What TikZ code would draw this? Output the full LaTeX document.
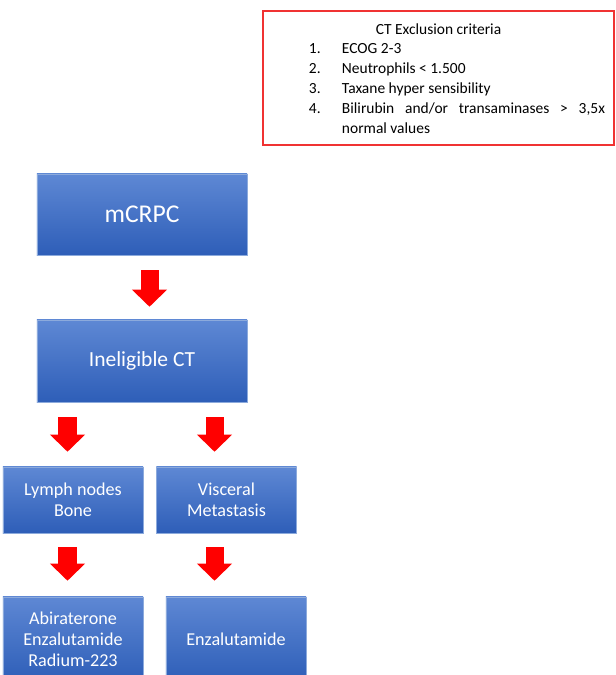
\documentclass[tikz,border=0pt]{standalone}
\usepackage{fontspec}
\setsansfont{Carlito}
\usetikzlibrary{arrows.meta,calc}
\tikzset{every picture/.style={/utils/exec={\sffamily}}}
\definecolor{stageTop}{RGB}{94,136,212}
\definecolor{stageBot}{RGB}{46,94,184}
\definecolor{stageEdge}{RGB}{140,170,220}
\definecolor{critRed}{RGB}{240,50,50}
\tikzset{stage/.style={draw=stageEdge,line width=0.4pt,top color=stageTop,bottom color=stageBot,text=white,align=center,inner sep=0pt}}
\tikzset{small/.style={stage,minimum width=3.5cm,font=\fontsize{12.9}{15}\selectfont}}
\tikzset{flow/.style={red,line width=0.45cm,-{Triangle[width=0.875cm,length=0.425cm,line width=0pt]}}}

\begin{document}
\begin{tikzpicture}[x=0.025cm,y=-0.025cm]
    \useasboundingbox (0,0) rectangle (616,675);
    % exclusion criteria
    \node (crit) at (438.5,78) [draw=critRed,line width=1pt,minimum width=8.775cm,
        minimum height=3.35cm,text width=8.775cm,inner sep=0pt,align=justify,
        font=\fontsize{11}{14.2}\selectfont] {%
        {\centering\rule{0pt}{13pt}CT Exclusion criteria\par}\vspace{-0.5pt}
        \noindent\hspace*{1.15cm}\begin{tabular}[t]{@{}p{0.825cm}@{}p{6.575cm}@{}}
            1. & ECOG 2-3\\
            2. & Neutrophils < 1.500\\
            3. & Taxane hyper sensibility\\
            4. & \hyphenpenalty=10000 Bilirubin and/or transaminases > 3,5x normal values
        \end{tabular}};
    % flow
    \node (mcrpc) at (142,214.5) [stage,minimum width=5.25cm,minimum height=2.025cm,font=\fontsize{18.2}{21}\selectfont] {mCRPC};
    \node (inel) at (142,361) [stage,minimum width=5.25cm,minimum height=2.05cm,font=\fontsize{15.3}{18}\selectfont] {Ineligible CT};
    \node (lymph) at (73,500) [small,minimum height=1.65cm] {Lymph nodes\\Bone};
    \node (visc) at (226.5,500) [small,minimum height=1.65cm] {Visceral\\Metastasis};
    \node (abir) at (73,639) [small,minimum height=2.1cm] {Abiraterone\\Enzalutamide\\Radium-223};
    \node (enz) at (236,639) [small,minimum height=2.1cm] {Enzalutamide};
    \coordinate (colM) at (149.5,0);
    \coordinate (colL) at (67.5,0);
    \coordinate (colR) at (214.5,0);
    \draw[flow,shorten <=0.375cm,shorten >=0.325cm] (mcrpc.south -| colM) -- (inel.north -| colM);
    \draw[flow,shorten <=0.375cm,shorten >=0.375cm] (inel.south -| colL) -- (lymph.north -| colL);
    \draw[flow,shorten <=0.375cm,shorten >=0.375cm] (inel.south -| colR) -- (visc.north -| colR);
    \draw[flow,shorten <=0.35cm,shorten >=0.4cm] (lymph.south -| colL) -- (abir.north -| colL);
    \draw[flow,shorten <=0.35cm,shorten >=0.4cm] (visc.south -| colR) -- (enz.north -| colR);
\end{tikzpicture}
\end{document}
